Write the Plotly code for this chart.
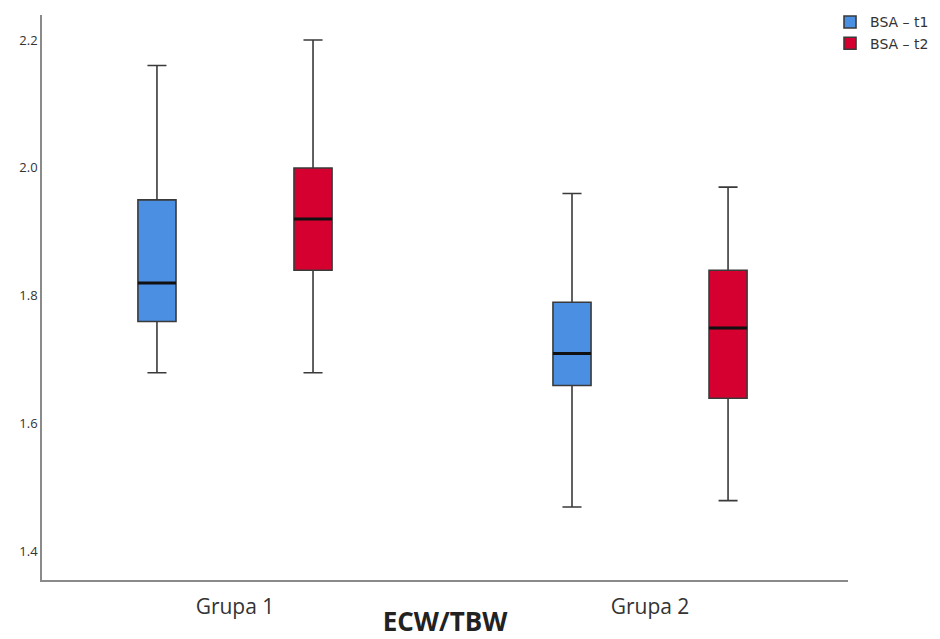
import plotly.graph_objects as go

groups = ["Grupa 1", "Grupa 2"]
series_names = ["BSA – t1", "BSA – t2"]
colors = ["#4a8fe2", "#d5002f"]

# per series: values for [Grupa 1, Grupa 2]
lower = [[1.68, 1.47], [1.68, 1.48]]
q1 = [[1.76, 1.66], [1.84, 1.64]]
median = [[1.82, 1.71], [1.92, 1.75]]
q3 = [[1.95, 1.79], [2.00, 1.84]]
upper = [[2.16, 1.96], [2.20, 1.97]]

y_ticks = [1.4, 1.6, 1.8, 2.0, 2.2]

fig = go.Figure()
for i, name in enumerate(series_names):
    fig.add_trace(go.Box(
        x=groups, q1=q1[i], median=median[i], q3=q3[i],
        lowerfence=lower[i], upperfence=upper[i],
        name=name, offsetgroup=f"s{i}", fillcolor=colors[i],
        line=dict(color="#3a3a3a", width=1.6), whiskerwidth=0.5,
        boxpoints=False, hoverinfo="skip",
    ))
for i, name in enumerate(series_names):
    fig.add_trace(go.Box(
        x=groups, q1=median[i], median=median[i], q3=median[i],
        lowerfence=median[i], upperfence=median[i],
        name=name, offsetgroup=f"s{i}", fillcolor="rgba(0,0,0,0)",
        line=dict(color="#111111", width=3), whiskerwidth=0,
        boxpoints=False, showlegend=False, hoverinfo="skip",
    ))

fig.update_layout(
    width=940, height=639,
    margin=dict(l=42, r=92, t=15, b=59, autoexpand=False),
    paper_bgcolor="white", plot_bgcolor="white",
    boxmode="group", boxgap=0.248, boxgroupgap=0.756,
    font=dict(family="Open Sans, DejaVu Sans, sans-serif", color="#333"),
    legend=dict(xref="container", yref="container", x=0.883, xanchor="left",
                y=0.99, yanchor="top",
                font=dict(family="DejaVu Sans", size=14, color="#333"), tracegroupgap=0,
                itemwidth=30, bgcolor="rgba(0,0,0,0)"),
    showlegend=True,
)
fig.update_xaxes(
    type="category", range=[-0.465, 1.477],
    showline=True, linecolor="#8a8a8a", linewidth=1.5,
    ticks="", tickfont=dict(size=21, color="#333"), ticklabelstandoff=7,
    title=dict(text="<b>ECW/TBW</b>", font=dict(size=26, color="#222"), standoff=6),
    showgrid=False, zeroline=False,
)
fig.update_yaxes(
    range=[1.356, 2.239], tickvals=y_ticks, ticktext=[f"{v:.1f}" for v in y_ticks],
    showline=True, linecolor="#8a8a8a", linewidth=1.5,
    ticks="", tickfont=dict(size=13, color="#333"),
    showgrid=False, zeroline=False,
)
fig.write_html("out.html")
